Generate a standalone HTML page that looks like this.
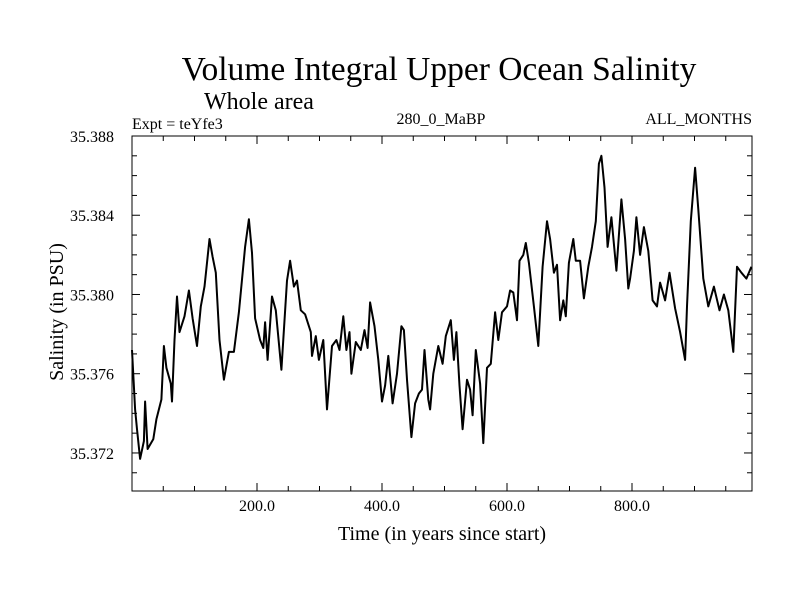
<!DOCTYPE html>
<html><head><meta charset="utf-8"><style>
body{margin:0;background:#fff;}
svg text{font-family:"Liberation Serif",serif;fill:#000;}
</style></head><body>
<svg width="800" height="600" xmlns="http://www.w3.org/2000/svg">
<text x="439" y="80" font-size="33.5" text-anchor="middle">Volume Integral Upper Ocean Salinity</text>
<text x="204" y="109" font-size="24">Whole area</text>
<text x="132" y="129" font-size="16">Expt = teYfe3</text>
<text x="441" y="124" font-size="16" text-anchor="middle">280_0_MaBP</text>
<text x="752" y="124" font-size="16" text-anchor="end">ALL_MONTHS</text>
<text x="442" y="540" font-size="20" text-anchor="middle">Time (in years since start)</text>
<text transform="translate(63,312) rotate(-90)" font-size="20" text-anchor="middle">Salinity (in PSU)</text>
<g id="axes"></g>
<path id="line" fill="none" stroke="#000" stroke-width="2" stroke-linejoin="round"/>
<rect x="132" y="136" width="620" height="355" fill="none" stroke="#000" stroke-width="1"/>
</svg>
<script>
const years=[0,5,8,13,19,21,25,34,39,47,51,55,62,64,68,72,76,84,91,97,104,110,116,124,129,134,140,147,155,163,171,181,187,192,197,205,210,213,217,224,230,239,248,253,259,264,270,277,286,288,294,299,306,312,320,327,332,338,343,348,351,358,366,372,377,381,388,394,400,405,410,417,424,431,435,440,447,453,459,464,468,474,477,482,490,497,502,510,515,519,524,529,536,541,545,550,557,562,568,574,581,586,592,600,605,610,616,620,626,630,635,643,650,657,664,669,675,680,685,690,694,699,706,710,717,723,730,736,742,747,751,756,761,767,775,783,789,794,797,803,807,813,819,826,833,840,845,853,860,869,877,885,888,894,901,906,914,922,931,940,947,954,962,968,975,983,991];
const salinity=[35.3772,35.3742,35.3732,35.3717,35.3726,35.3746,35.3722,35.3727,35.3737,35.3747,35.3774,35.3763,35.3755,35.3746,35.3777,35.3799,35.3781,35.3789,35.3802,35.3788,35.3774,35.3794,35.3804,35.3828,35.3819,35.3811,35.3777,35.3757,35.3771,35.3771,35.3791,35.3824,35.3838,35.3821,35.3788,35.3777,35.3773,35.3786,35.3767,35.3799,35.3792,35.3762,35.3807,35.3817,35.3804,35.3807,35.3792,35.3790,35.3781,35.3769,35.3779,35.3767,35.3777,35.3742,35.3774,35.3777,35.3772,35.3789,35.3772,35.3781,35.3760,35.3776,35.3772,35.3782,35.3773,35.3796,35.3784,35.3767,35.3746,35.3754,35.3769,35.3745,35.3760,35.3784,35.3782,35.3757,35.3728,35.3745,35.3750,35.3752,35.3772,35.3747,35.3742,35.3760,35.3774,35.3765,35.3779,35.3787,35.3767,35.3781,35.3754,35.3732,35.3757,35.3752,35.3739,35.3772,35.3755,35.3725,35.3763,35.3765,35.3791,35.3777,35.3791,35.3794,35.3802,35.3801,35.3787,35.3817,35.3820,35.3826,35.3816,35.3794,35.3774,35.3814,35.3837,35.3828,35.3811,35.3815,35.3787,35.3797,35.3789,35.3816,35.3828,35.3817,35.3817,35.3798,35.3814,35.3824,35.3837,35.3866,35.3870,35.3854,35.3824,35.3839,35.3812,35.3848,35.3828,35.3803,35.3808,35.3822,35.3839,35.3820,35.3834,35.3822,35.3797,35.3794,35.3806,35.3797,35.3811,35.3793,35.3781,35.3767,35.3794,35.3837,35.3864,35.3843,35.3808,35.3794,35.3804,35.3792,35.3800,35.3792,35.3771,35.3814,35.3811,35.3808,35.3814];
const xTicks=[200,400,600,800];
const xTickLabels=["200.0","400.0","600.0","800.0"];
const yTicks=[35.372,35.376,35.380,35.384,35.388];
const yTickLabels=["35.372","35.376","35.380","35.384","35.388"];
const X0=132,X1=752,Y0=491,Y1=136,XMIN=0,XMAX=992,YMIN=35.37008,YMAX=35.388;
const sx=v=>X0+(v-XMIN)/(XMAX-XMIN)*(X1-X0);
const sy=v=>Y0-(v-YMIN)/(YMAX-YMIN)*(Y0-Y1);
const NS="http://www.w3.org/2000/svg";
const g=document.getElementById('axes');
function ln(x1,y1,x2,y2,name){const l=document.createElementNS(NS,'line');l.setAttribute('x1',x1);l.setAttribute('y1',y1);l.setAttribute('x2',x2);l.setAttribute('y2',y2);l.setAttribute('stroke','#000');l.setAttribute('stroke-width','1');


g.appendChild(l);}
function tx(x,y,s,anchor,name){const t=document.createElementNS(NS,'text');t.setAttribute('x',x);t.setAttribute('y',y);t.setAttribute('font-size','16');t.setAttribute('text-anchor',anchor);t.textContent=s;


g.appendChild(t);}
for(let v=50;v<XMAX;v+=50){const x=sx(v);const len=(v%200===0)?8:5;ln(x,Y0,x,Y0-len,'x-tick');ln(x,Y1,x,Y1+len,'x-tick-top');}
xTicks.forEach((v,i)=>tx(sx(v),511,xTickLabels[i],'middle','x-tick-label'));
for(let k=0;k<=18;k++){const v=35.371+k*0.001;if(v>YMAX+1e-9)break;const y=sy(v);const major=Math.abs((v-35.372)/0.004-Math.round((v-35.372)/0.004))<1e-6;const len=major?8:5;ln(X0,y,X0+len,y,'y-tick');ln(X1,y,X1-len,y,'y-tick-right');}
yTicks.forEach((v,i)=>tx(114,sy(v)+6,yTickLabels[i],'end','y-tick-label'));
let d='';years.forEach((yr,i)=>{d+=(i?'L':'M')+sx(yr).toFixed(1)+','+sy(salinity[i]).toFixed(1);});
document.getElementById('line').setAttribute('d',d);
</script>
</body></html>
